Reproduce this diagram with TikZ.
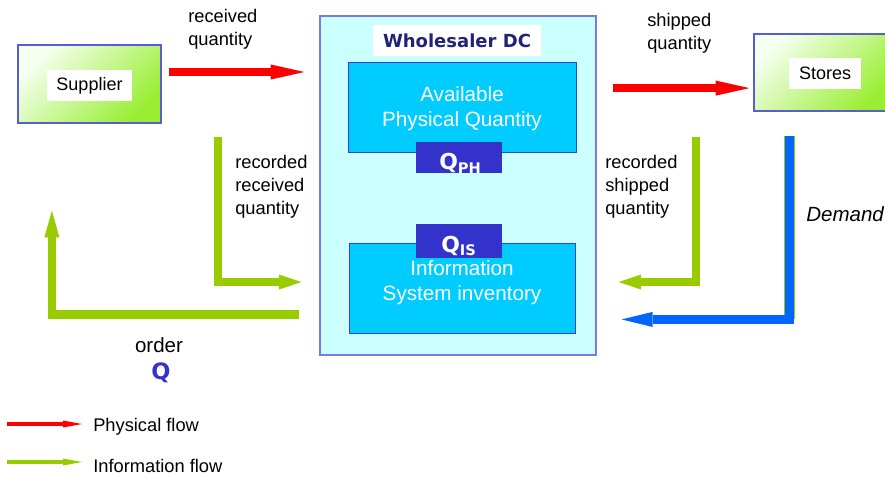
\documentclass[tikz,border=0pt]{standalone}
\usepackage{fontspec}
\setmainfont{Liberation Sans}
\newfontfamily\verdfont{DejaVu Sans}
\usetikzlibrary{arrows.meta,fit,positioning}

\definecolor{physred}{HTML}{FF0000}
\definecolor{infogreen}{HTML}{99CC00}
\definecolor{demandblue}{HTML}{0066FF}
\definecolor{edgeblue}{HTML}{5B5BD6}
\definecolor{dcfill}{HTML}{CCFFFF}
\definecolor{dcedge}{HTML}{7A7AE0}
\definecolor{stockfill}{HTML}{00CCFF}
\definecolor{stockedge}{HTML}{3344CC}
\definecolor{qfill}{HTML}{3333CC}
\definecolor{navy}{HTML}{222277}
\definecolor{lightgreen}{HTML}{F6FFF0}
\definecolor{brightgreen}{HTML}{99EE33}

\tikzset{
  partner/.style={draw=edgeblue, line width=0.8pt, top color=lightgreen, bottom color=brightgreen, shading angle=45, inner sep=0pt},
  tag/.style={fill=white, inner xsep=7pt, minimum height=22pt, font=\fontsize{12.8}{15}\selectfont},
  stockbox/.style={draw=stockedge, fill=stockfill, inner sep=0pt, line width=0.6pt},
  stocktext/.style={text=white, align=center, inner sep=0pt, font=\fontsize{14.7}{17.8}\selectfont},
  qbox/.style={fill=qfill, inner sep=0pt},
  qtext/.style={text=white, anchor=base west, inner sep=0pt, font=\verdfont\bfseries\fontsize{15.6}{18}\selectfont},
  note/.style={anchor=west, align=left, inner sep=0pt, font=\fontsize{13}{16.4}\selectfont},
  physflow/.style={physred, line width=5.8pt, -{Triangle[length=24pt,width=10.7pt,line width=0pt]}},
  infoflow/.style={infogreen, line width=5.8pt, -{Triangle[length=16pt,width=10.7pt,line width=0pt]}},
  demandflow/.style={demandblue, line width=5.8pt, -{Triangle[length=22pt,width=10.7pt,line width=0pt]}},
  legendflow/.style={line width=2.4pt, -{Triangle[length=13.5pt,width=5pt,line width=0pt]}},
}

\begin{document}
\begin{tikzpicture}[x=0.025cm, y=-0.025cm]
\useasboundingbox (0,0) rectangle (885,476);

\node[partner, fit={(18,45) (161,123)}] (supplier) {};
\node[tag] (suppliertag) at (89.5,85.5) {Supplier};
\node[partner, fit={(754,34) (892,111)}] (stores) {};
\node[tag] (storestag) at (825,73.5) {Stores};

\node[draw=dcedge, fill=dcfill, line width=0.8pt, inner sep=0pt, fit={(320,16) (596,355)}] (dc) {};
\node[tag, text=navy, font=\verdfont\bfseries\fontsize{12.8}{15}\selectfont] (dctag) at (457,40.5) {Wholesaler DC};

\node[stockbox, fit={(348,62) (576,152)}] (avail) {};
\node[stocktext] (availtxt) at (462,108.5) {Available\\Physical Quantity};
\node[stockbox, fit={(349,243) (575,333)}] (info) {};
\node[stocktext] (infotxt) at (462,283) {Information\\System inventory};

\node[qbox, fit={(416,142) (502,173)}] (qph) {};
\node[qbox, fit={(416,224) (502,258)}] (qis) {};
\begin{scope}
  \clip (qph.north west) rectangle (qph.south east);
  \node[qtext] (qphtxt) at (439,169.8) {Q\raisebox{-2.4pt}{\fontsize{10.4}{12}\selectfont PH}};
\end{scope}
\node[qtext] (qistxt) at (441,252.2) {Q\raisebox{-2.4pt}{\fontsize{10.4}{12}\selectfont IS}};

% physical flows
\coordinate (recvstart) at ([xshift=0.175cm,yshift=0.3cm]supplier.east);
\draw[physflow] (recvstart) -- ([xshift=-0.375cm]dc.west |- recvstart);
\coordinate (shipend) at ([xshift=-0.1cm,yshift=-0.39cm]stores.west);
\draw[physflow] ([xshift=0.4cm]dc.east |- shipend) -- (shipend);

% information flows
\coordinate (rectop) at (218,137);
\draw[infoflow] (rectop) |- ([xshift=-0.45cm,yshift=0.15cm]dc.west |- info.west);
\coordinate (ordertip) at ([xshift=-0.94cm,yshift=-2.175cm]supplier.south);
\draw[infoflow, -{Triangle[length=19pt,width=10.7pt,line width=0pt]}] ([xshift=-0.5cm,yshift=0.475cm]dc.west |- info.south) -| (ordertip);
\coordinate (shiptop) at (696,137);
\draw[infoflow] (shiptop) |- ([xshift=0.55cm,yshift=0.15cm]dc.east |- info.east);
\coordinate (demandtop) at ([xshift=0.9cm,yshift=-0.6cm]stores.south west);
\coordinate (demandend) at ([xshift=0.625cm,yshift=0.35cm]dc.east |- info.south);
\draw[infogreen, line width=7.5pt] (demandtop) -- (demandtop |- demandend);
\draw[demandflow] (demandtop) |- (demandend);

\node[note] (recvlbl) at (188,29.5) {received\\quantity};
\node[note] (shiplbl) at (647,33) {shipped\\quantity};
\node[note] (reclbl) at (235,186.5) {recorded\\received\\quantity};
\node[note] (shiprlbl) at (605,186.5) {recorded\\shipped\\quantity};
\node[note, font=\itshape\fontsize{14.6}{17}\selectfont] (demandlbl) at (806,214) {Demand};
\node[inner sep=0pt, font=\fontsize{14.6}{17}\selectfont] (orderlbl) at (159,345) {order};
\node[inner sep=0pt, text=qfill, font=\verdfont\bfseries\fontsize{16}{18}\selectfont] (orderq) at (161,373) {Q};

% legend
\node[note] (physlbl) at (93,427) {Physical flow};
\node[note] (infolbl) at (93,465.5) {Information flow};
\coordinate (physA) at (7,424);
\coordinate (infoA) at (7,462);
\draw[legendflow, physred] (physA) -- ++(75,0);
\draw[legendflow, infogreen] (infoA) -- ++(75,0);
\end{tikzpicture}
\end{document}
